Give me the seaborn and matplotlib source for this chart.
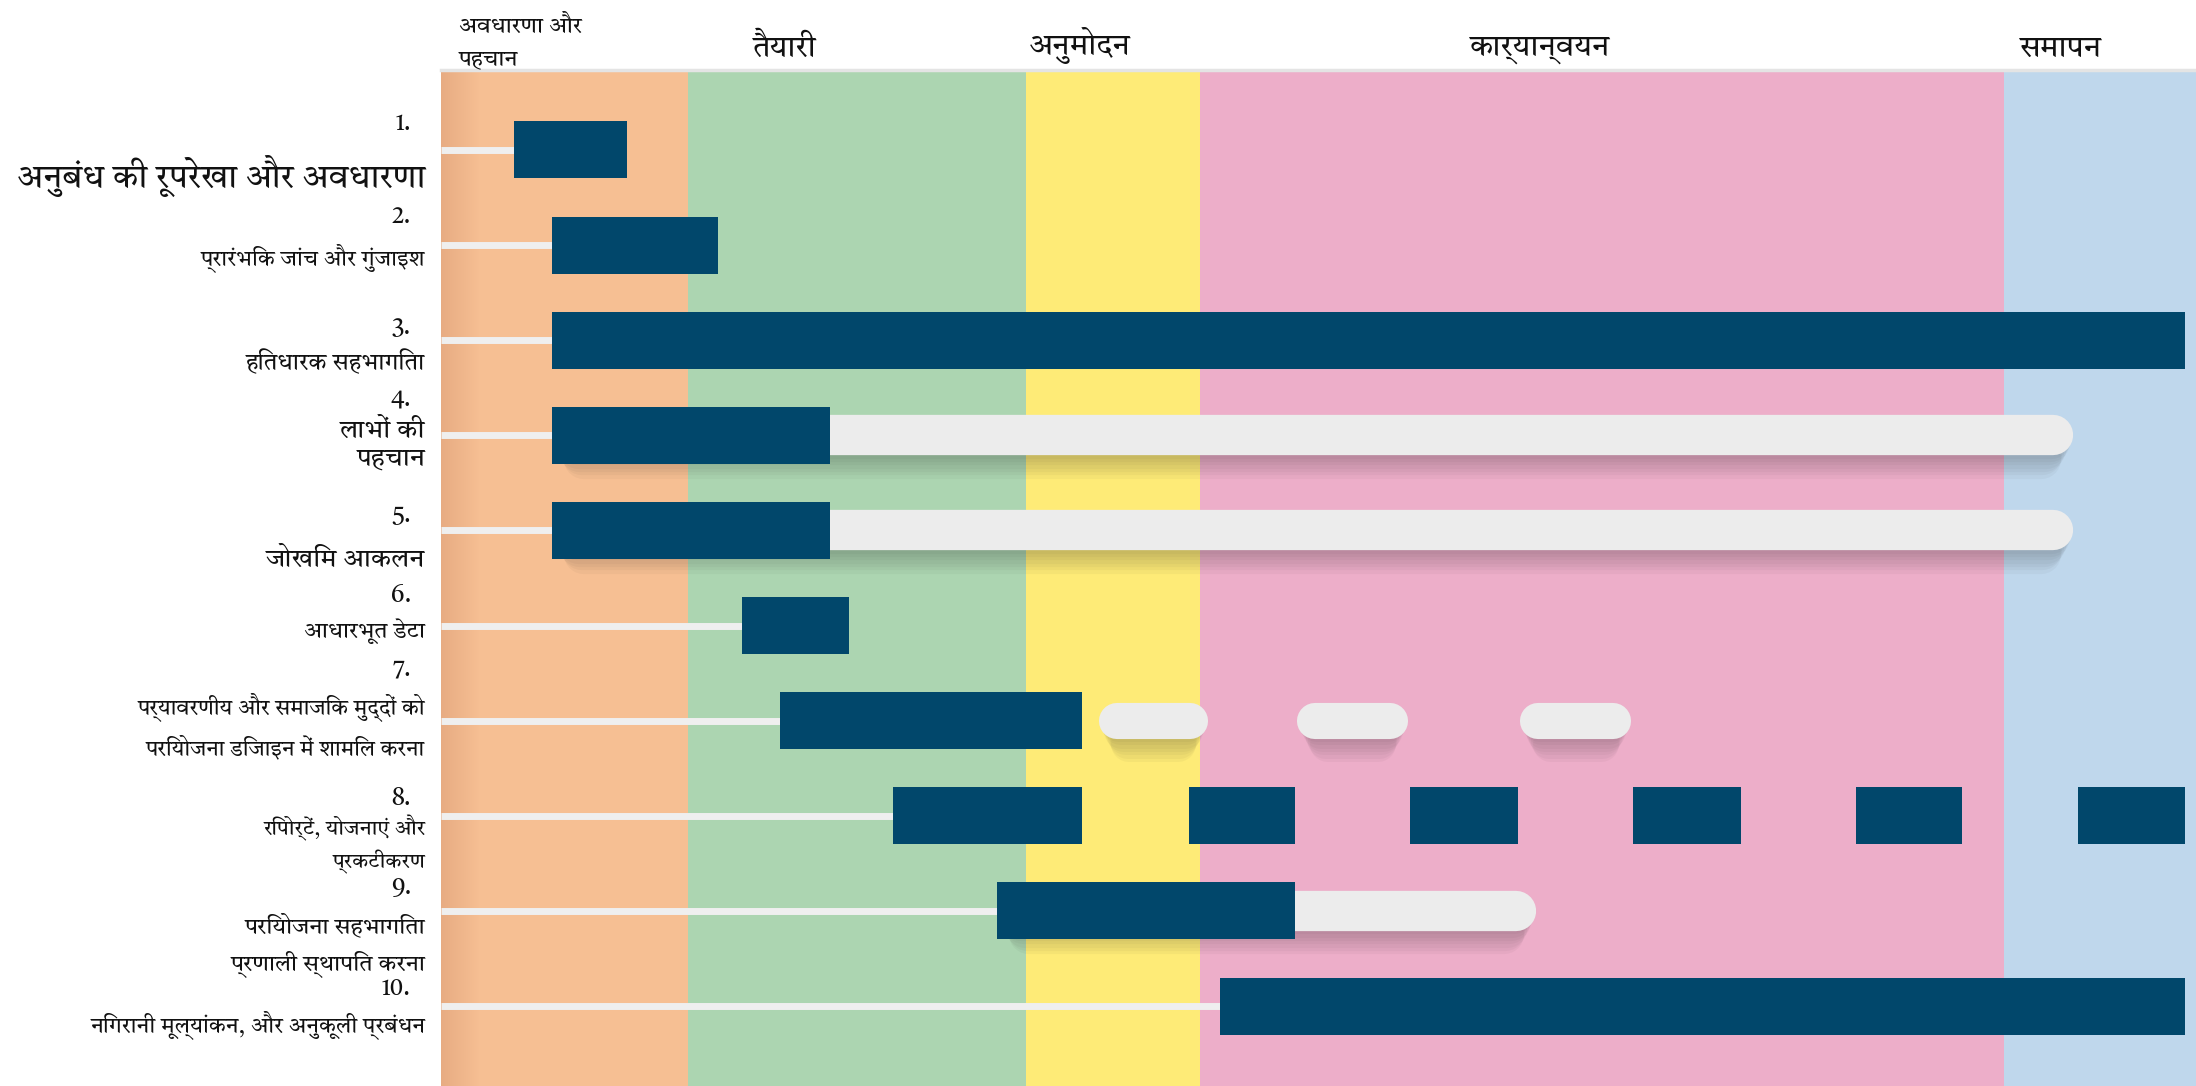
import numpy as np
import matplotlib
matplotlib.use('Agg')
import matplotlib.pyplot as plt
import matplotlib.transforms as mtransforms
import seaborn as sns

# phases (x in percent of the project timeline)
phase_names = ['अवधारणा और\nपहचान', 'तैयारी', 'अनुमोदन', 'कार्यान्वयन', 'समापन']
phase_start = [0, 14.05, 33.36, 43.26, 89.07]
phase_end = [14.05, 33.36, 43.26, 89.07, 100]
phase_colors = ['#f6bf93', '#acd5b1', '#feeb77', '#edaec9', '#bfd7ec']

task_numbers = ['1.', '2.', '3.', '4.', '5.', '6.', '7.', '8.', '9.', '10.']
task_names = [
    'अनुबंध की रूपरेखा और अवधारणा',
    'प्रारंभिक जांच और गुंजाइश',
    'हितधारक सहभागिता',
    'लाभों की\nपहचान',
    'जोखिम आकलन',
    'आधारभूत डेटा',
    'पर्यावरणीय और समाजिक मुद्दों को\nपरियोजना डिजाइन में शामिल करना',
    'रिपोर्टें, योजनाएं और\nप्रकटीकरण',
    'परियोजना सहभागिता\nप्रणाली स्थापित करना',
    'निगरानी मूल्यांकन, और अनुकूली प्रबंधन',
]

# solid (navy) work blocks per task
bar_start = [[4.15], [6.3], [6.3], [6.3], [6.3], [17.16], [19.31],
             [25.78, 42.62, 55.23, 67.92, 80.61, 93.3], [31.68], [44.37]]
bar_end = [[10.61], [15.8], [99.36], [22.19], [22.19], [23.22], [36.55],
           [36.55, 48.68, 61.37, 74.06, 86.67, 99.36], [48.68], [99.36]]

# light grey "ongoing" tracks per task
track_start = [[], [], [], [6.3], [6.3], [], [37.5, 48.8, 61.5], [], [31.68], []]
track_end = [[], [], [], [93.0], [93.0], [], [43.7, 55.1, 67.8], [], [62.4], []]

navy = '#01476b'
track_col = '#ececec'

sns.set_theme(style='white')
plt.rcParams['font.family'] = ['Tiro Devanagari Hindi', 'Noto Serif Devanagari', 'FreeSerif', 'DejaVu Sans']

W, H = 2196, 1086
fig = plt.figure(figsize=(W / 100, H / 100), dpi=100)
ax = fig.add_axes([441 / W, 0, 1755 / W, 1016 / H])

n = len(task_names)
ax.set_xlim(0, 100)
ax.set_ylim(n - 1 + 0.84, -0.84)

# phase backgrounds
for s, e, c in zip(phase_start, phase_end, phase_colors):
    ax.axvspan(s, e, color=c, lw=0, zorder=0)

# soft shade at the left edge
grad = np.zeros((1, 60, 4))
grad[..., 0], grad[..., 1], grad[..., 2] = 0.78, 0.50, 0.36
grad[..., 3] = np.linspace(0.3, 0, 60)
ax.imshow(grad, extent=(0, 2.2, n - 1 + 0.84, -0.84), aspect='auto', zorder=0.5)

# data units per point (for rounded caps)
px_per_unit = 1755 / 100
pt_to_units = (100 / 72) / px_per_unit

for i in range(n):
    first = min(bar_start[i])
    # thin connector from the left edge
    ax.plot([0, first], [i, i], color='#efefef', lw=5, solid_capstyle='butt', zorder=2)

    # tracks (caps kept inside the given span)
    lw = 26 if len(track_start[i]) > 1 else 29
    r = lw / 2 * pt_to_units
    for s, e in zip(track_start[i], track_end[i]):
        x0, x1 = s + r, e - r
        for k in range(1, 8):
            ax.plot([x0 + 0.1 * k, x1 - 0.1 * k], [i + 0.035 * k, i + 0.035 * k],
                    color='k', alpha=0.035, lw=lw, solid_capstyle='round', zorder=2.5)
        ax.plot([x0, x1], [i, i], color=track_col, lw=lw, solid_capstyle='round', zorder=3)

    # navy blocks
    starts = np.array(bar_start[i])
    widths = np.array(bar_end[i]) - starts
    ax.barh([i] * len(starts), widths, left=starts, height=0.6, color=navy, lw=0, zorder=4)

# row labels
lab_tf = mtransforms.blended_transform_factory(ax.transAxes, ax.transData)
num_off = [-0.28, -0.30, -0.13, -0.37, -0.15, -0.31, -0.54, -0.18, -0.24, -0.18]
name_off = [0.27, 0.13, 0.24, 0.10, 0.31, 0.06, 0.06, 0.30, 0.36, 0.19]
name_size = [24, 16, 17, 19, 19, 16.5, 15.8, 15.2, 16.8, 16]
name_ls = [1.2, 1.2, 1.2, 1.1, 1.2, 1.2, 1.75, 1.5, 1.55, 1.2]
for i in range(n):
    ax.text(-0.017, i + num_off[i], task_numbers[i], transform=lab_tf, ha='right', va='center',
            fontsize=17, color='#111111', clip_on=False)
    ax.text(-0.009, i + name_off[i], task_names[i], transform=lab_tf, ha='right', va='center',
            fontsize=name_size[i], color='#111111', linespacing=name_ls[i],
            multialignment='right', clip_on=False)

# phase headers
hdr_tf = mtransforms.blended_transform_factory(ax.transData, ax.transAxes)
ax.text(1.0, 1.0, phase_names[0], transform=hdr_tf, ha='left', va='bottom', fontsize=16.5,
        linespacing=1.6, color='#111111')
hdr_x = [None, 19.6, 36.4, 62.6, 92.3]
for x, name in zip(hdr_x[1:], phase_names[1:]):
    ax.text(x, 1.006, name, transform=hdr_tf, ha='center', va='bottom', fontsize=22, color='#111111')

ax.set_xticks([])
ax.set_yticks([])
for sp in ['left', 'right', 'bottom']:
    ax.spines[sp].set_visible(False)
ax.spines['top'].set_color('#e4e4e4')
ax.spines['top'].set_linewidth(2.5)

fig.savefig('out.png', dpi=100, facecolor='white')
